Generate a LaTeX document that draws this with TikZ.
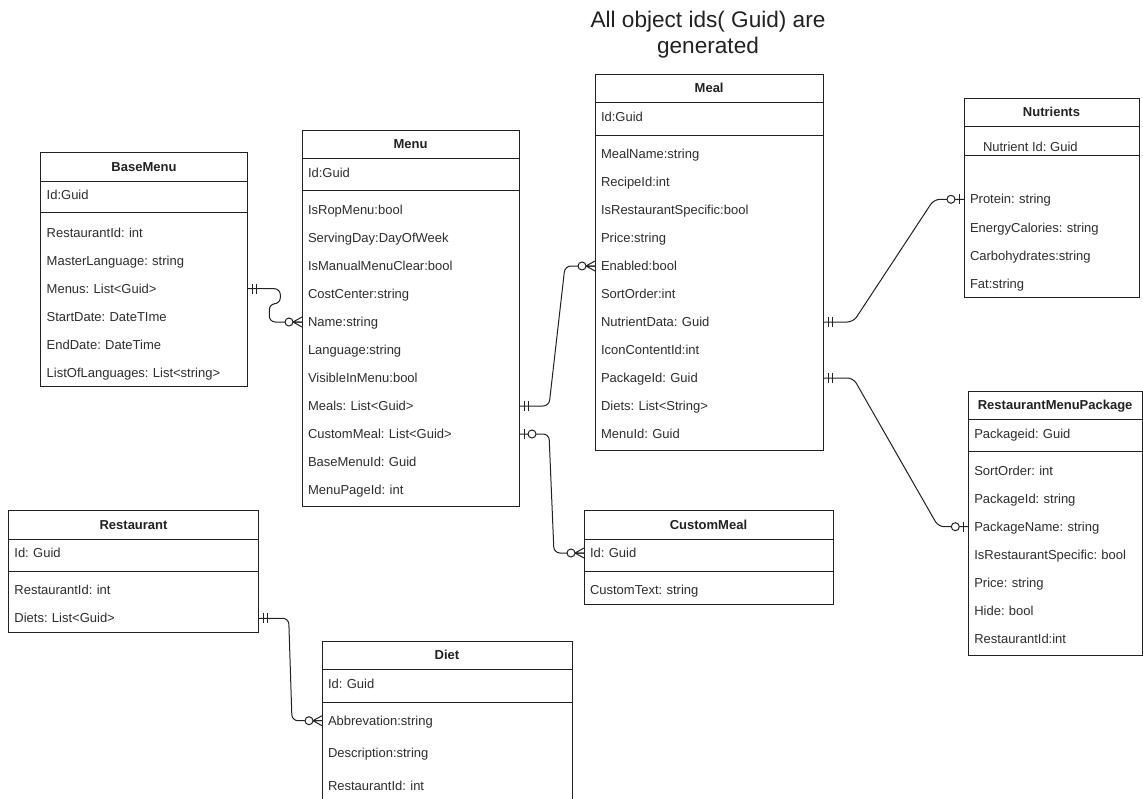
\documentclass[tikz,border=0pt]{standalone}
\usepackage{fontspec}
\setmainfont{Liberation Sans}
\usetikzlibrary{calc}
\frenchspacing
\definecolor{erink}{HTML}{222222}
\definecolor{ertext}{HTML}{2E2E2E}
\tikzset{
  erframe/.style={draw=erink, line width=1pt, inner sep=0pt, outer sep=0pt},
  erline/.style={draw=erink, line width=1pt},
  erhead/.style={font=\fontsize{13}{15}\selectfont\bfseries, text=erink, inner sep=0pt, text height=9.3pt, text depth=0pt},
  errow/.style={font=\fontsize{13}{15}\selectfont, text=ertext, inner ysep=0pt, inner xsep=6pt, outer sep=0pt, text height=9.3pt, text depth=0pt, align=left},
  erlink/.style={draw=erink, line width=1pt, rounded corners=6pt},
  mandone/.pic={\draw[erline] (5,-5) -- (5,5) (9,-5) -- (9,5);},
  zeroone/.pic={\draw[erline] (5,-5) -- (5,5); \draw[erline, fill=white] (13,0) circle (4pt);},
  zeromany/.pic={\draw[erline] (0,-5) -- (9,0) -- (0,5) (0,0) -- (9,0); \draw[erline, fill=white] (13,0) circle (4pt);},
}
% entity frame: name, left, right, top, header line, id line, bottom, title
\newcommand{\erent}[8]{%
  \pgfmathsetmacro\erw{#3-#2}%
  \pgfmathsetmacro\erh{#7-#4}%
  \node[erframe, minimum width=\erw pt, minimum height=\erh pt, anchor=north west] (#1) at (#2,#4) {};
  \draw[erline] (#2,#5) -- (#3,#5);
  \draw[erline] (#2,#6) -- (#3,#6);
  \node[erhead] (#1-title) at ({(#2+#3)/2},{(#4+#5)/2}) {#8};
}
% id row: name, left, right, y, text
\newcommand{\erid}[5]{%
  \pgfmathsetmacro\erw{#3-#2-12}%
  \node[errow, text width=\erw pt, anchor=west] (#1-0) at (#2,#4) {#5};
}
% rows: name, left, right, first y, step, list
\newcommand{\errows}[6]{%
  \pgfmathsetmacro\erw{#3-#2-12}%
  \foreach \t [count=\i] in {#6} {
    \pgfmathsetmacro\ery{#4+(\i-1)*#5}
    \node[errow, text width=\erw pt, anchor=west] (#1-\i) at (#2,\ery) {\t};
  }
}
\begin{document}
\frenchspacing
\begin{tikzpicture}[x=1pt, y=-1pt]
\useasboundingbox (0,0) rectangle (1143,798);
\clip (0,0) rectangle (1143,798);
\fill[white] (0,0) rectangle (1143,798);

\node[align=center, font=\fontsize{22.6}{26}\selectfont, text=erink, inner sep=0pt] (note) at (708,35) {All object ids( Guid) are\\generated};

% BaseMenu
\erent{bm}{40.7}{247.3}{152.3}{181.7}{212.7}{386.7}{BaseMenu}
\erid{bm}{40.7}{247.3}{195}{Id:Guid}
\errows{bm}{40.7}{247.3}{232.7}{28}{RestaurantId: int, MasterLanguage: string, Menus: List<Guid>, StartDate: DateTIme, EndDate: DateTime, ListOfLanguages: List<string>}

% Menu
\erent{menu}{302}{519}{130}{158.3}{190.7}{506.7}{Menu}
\erid{menu}{302}{519}{173.3}{Id:Guid}
\errows{menu}{302}{519}{210}{28}{IsRopMenu:bool, ServingDay:DayOfWeek, IsManualMenuClear:bool, CostCenter:string, Name:string, Language:string, VisibleInMenu:bool, Meals: List<Guid>, CustomMeal: List<Guid>, BaseMenuId: Guid, MenuPageId: int}

% Meal
\erent{meal}{595}{823.3}{74}{102}{135}{450}{Meal}
\erid{meal}{595}{823.3}{116.7}{Id:Guid}
\errows{meal}{595}{823.3}{154}{28}{MealName:string, RecipeId:int, IsRestaurantSpecific:bool, Price:string, Enabled:bool, SortOrder:int, NutrientData: Guid, IconContentId:int, PackageId: Guid, Diets: List<String>, MenuId: Guid}

% Nutrients
\erent{nut}{964}{1139}{98}{126}{155.3}{297.7}{Nutrients}
\node[errow, inner xsep=0pt, anchor=west] (nut-0) at (983,146.7) {Nutrient Id: Guid};
\errows{nut}{964}{1139}{199.3}{28.1}{Protein: string, EnergyCalories: string, Carbohydrates:string, Fat:string}

% RestaurantMenuPackage
\erent{rmp}{968.3}{1142}{391}{419.3}{451.7}{655}{RestaurantMenuPackage}
\erid{rmp}{968.3}{1142}{434}{Packageid: Guid}
\errows{rmp}{968.3}{1142}{470.7}{28}{SortOrder: int, PackageId: string, PackageName: string, IsRestaurantSpecific: bool, Price: string, Hide: bool, RestaurantId:int}

% CustomMeal
\erent{cm}{584}{833}{510.7}{539}{571}{604}{CustomMeal}
\erid{cm}{584}{833}{553}{Id: Guid}
\errows{cm}{584}{833}{590}{28}{CustomText: string}

% Restaurant
\erent{rest}{8.4}{258.7}{510.7}{539}{571.3}{632.3}{Restaurant}
\erid{rest}{8.4}{258.7}{553.3}{Id: Guid}
\errows{rest}{8.4}{258.7}{590}{28.3}{RestaurantId: int, Diets: List<Guid>}

% Diet
\erent{diet}{322}{572}{641}{669.3}{702.3}{815}{Diet}
\erid{diet}{322}{572}{683.7}{Id: Guid}
\errows{diet}{322}{572}{720.7}{32.5}{Abbrevation:string, Description:string, RestaurantId: int}

% connectors
\draw[erlink] (bm-3.east) -- ++(33,0) -- ++(0,15) -- ++(-11,0) |- (menu-5.west);
\draw[erlink] (menu-8.east) -- ++(30,0) -- ($(meal-5.west)+(-30,0)$) -- (meal-5.west);
\draw[erlink] (menu-9.east) -- ++(30,0) -- ($(cm-0.west)+(-30,0)$) -- (cm-0.west);
\draw[erlink] (meal-7.east) -- ++(30,0) -- ($(nut-1.west)+(-30,0)$) -- (nut-1.west);
\draw[erlink] (meal-9.east) -- ++(30,0) -- ($(rmp-3.west)+(-30,0)$) -- (rmp-3.west);
\draw[erlink] (rest-2.east) -- ++(30,0) -- ($(diet-1.west)+(-30,0)$) -- (diet-1.west);

% end markers
\pic at (bm-3.east) {mandone};
\pic[xscale=-1] at (menu-5.west) {zeromany};
\pic at (menu-8.east) {mandone};
\pic[xscale=-1] at (meal-5.west) {zeromany};
\pic at (menu-9.east) {zeroone};
\pic[xscale=-1] at (cm-0.west) {zeromany};
\pic at (meal-7.east) {mandone};
\pic[xscale=-1] at (nut-1.west) {zeroone};
\pic at (meal-9.east) {mandone};
\pic[xscale=-1] at (rmp-3.west) {zeroone};
\pic at (rest-2.east) {mandone};
\pic[xscale=-1] at (diet-1.west) {zeromany};
\end{tikzpicture}
\end{document}
